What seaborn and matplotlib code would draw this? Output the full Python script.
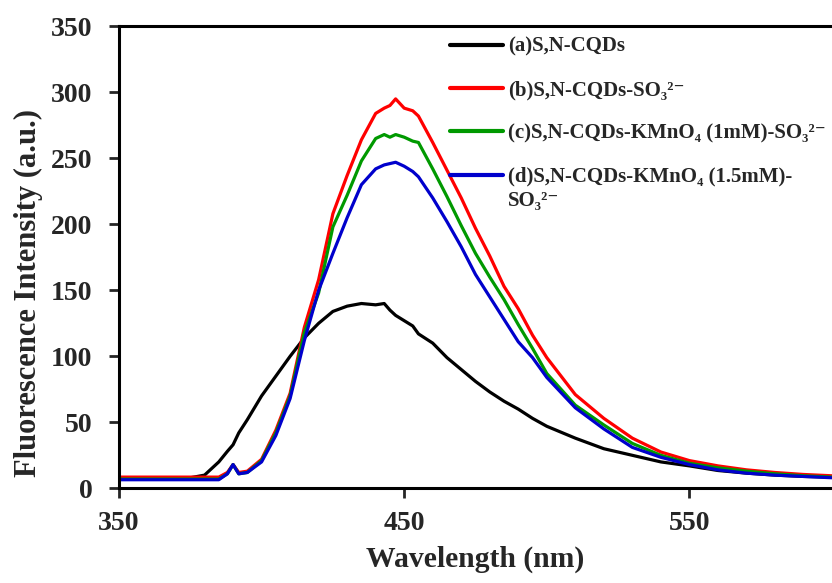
import numpy as np
import pandas as pd
import seaborn as sns
import matplotlib.pyplot as plt

# wavelengths (nm) and intensities
wl = [350, 360, 370, 375, 380, 385, 388, 390, 392, 395, 400, 405, 410, 415, 420,
      425, 430, 435, 440, 443, 445, 447, 450, 453, 455, 460, 465, 470, 475, 480,
      485, 490, 495, 500, 510, 520, 530, 540, 550, 560, 570, 580, 590, 600]

a_cqds = [7.5, 7.5, 7.5, 8, 10, 20, 28, 33, 42, 52, 70, 85, 100, 114, 125,
          134, 138, 140, 139, 140, 135, 131, 127, 123, 117, 110, 99, 90, 81, 73,
          66, 60, 53, 47, 38, 30, 25, 20, 17, 13.5, 11.5, 10, 9, 8.5]
b_so3 = [8.5, 8.5, 8.5, 8.5, 8.5, 8.5, 12, 18, 12, 13, 22, 44, 72, 122, 158,
         208, 237, 264, 284, 288, 290, 295, 288, 286, 282, 262, 241, 220, 197, 176,
         153, 136, 116, 99, 71, 53, 38, 27.5, 21, 17, 14, 12, 10.5, 9.5]
c_1mm = [7, 7, 7, 7, 7, 7, 11, 18, 11, 12, 21, 42, 70, 118, 148,
         198, 222, 248, 265, 268, 266, 268, 266, 263, 262, 242, 221, 199, 178, 160,
         143, 124, 106, 87, 63, 48, 34, 25, 19, 15.5, 13, 11, 9.5, 8.5]
d_15mm = [6.5, 6.5, 6.5, 6.5, 6.5, 6.5, 11, 18, 11, 12, 20, 40, 68, 112, 150,
          178, 205, 230, 242, 245, 246, 247, 244, 240, 236, 220, 202, 183, 162, 145,
          128, 111, 99, 84, 61, 45, 31, 23.5, 18, 14, 11.5, 10, 9, 8]

labels = ['(a)S,N-CQDs',
          '(b)S,N-CQDs-SO₃²⁻',
          '(c)S,N-CQDs-KMnO₄ (1mM)-SO₃²⁻',
          '(d)S,N-CQDs-KMnO₄ (1.5mM)-']
colors = ['#000000', '#ff0000', '#009900', '#0000cc']

df = pd.concat([pd.DataFrame({'wl': wl, 'val': v, 'sample': lab})
                for v, lab in zip([a_cqds, b_so3, c_1mm, d_15mm], labels)])

sns.set_style('white')
plt.rcParams['font.family'] = ['Liberation Serif', 'DejaVu Serif']
plt.rcParams['font.weight'] = 'bold'

fig = plt.figure(figsize=(8.32, 5.83), dpi=100)
ax = fig.add_axes([0.143, 0.1624, 0.857, 0.7925])
sns.lineplot(data=df, x='wl', y='val', hue='sample', palette=colors,
             linewidth=2.3, ax=ax)

ax.set_xlim(350, 600)
ax.set_ylim(0, 350)
ax.set_xticks([350, 450, 550])
ax.set_yticks(range(0, 351, 50))
ax.set_xlabel('Wavelength (nm)', fontsize=21.3, fontweight='bold', labelpad=7)
ax.set_ylabel('Fluorescence Intensity (a.u.)', fontsize=22, fontweight='bold')
ax.yaxis.set_label_coords(-0.106, 0.423)
ax.tick_params(axis='x', direction='out', length=7, width=2, labelsize=20,
               bottom=True, pad=9)
ax.tick_params(axis='y', direction='out', length=7, width=2, labelsize=20,
               left=True, pad=12)
for lab in ax.get_xticklabels() + ax.get_yticklabels():
    lab.set_fontweight('bold')
for s in ['left', 'bottom', 'top']:
    ax.spines[s].set_linewidth(2.2)
    ax.spines[s].set_color('black')
ax.spines['right'].set_visible(False)

leg = ax.legend(loc='upper left', bbox_to_anchor=(0.464, 0.977), frameon=False,
                borderaxespad=0, borderpad=0, fontsize=15, handlelength=2.55,
                labelspacing=1.12, handletextpad=0.25)
for t in leg.get_texts():
    t.set_fontweight('bold')
for l in leg.get_lines():
    l.set_linewidth(3)
# second line of label (d)
ax.text(0.5456, 0.622, 'SO₃²⁻', transform=ax.transAxes, fontsize=15,
        fontweight='bold', va='center', ha='left')

fig.savefig('out.png', dpi=100)
